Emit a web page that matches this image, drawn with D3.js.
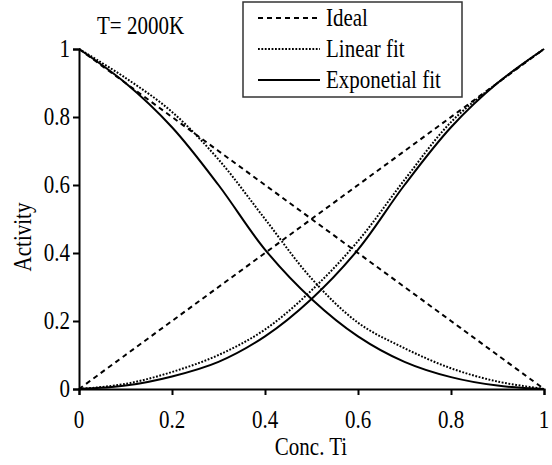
<!DOCTYPE html>
<html lang="en">
    <head>
        <meta charset="utf-8">
        <title>Activity vs Conc. Ti</title>
        <script type="text/javascript" src="https://d3js.org/d3.v7.min.js"></script>
        <style type="text/css">
          body { margin: 0; background: #fff; }
          svg { width: 552px; height: 465px; display: block; }
          text { font-family: "Liberation Serif", "DejaVu Serif", serif; fill: #000; }
        </style>
    </head>
    <body>
      <svg></svg>

        <script type="text/javascript">

        // concentration of Ti
        const conc = [0, 0.1, 0.2, 0.3, 0.4, 0.5, 0.6, 0.7, 0.8, 0.9, 1];

        // activities (rising = Ti, falling = the other component)
        const idealUp   = [0, 0.1, 0.2, 0.3, 0.4, 0.5, 0.6, 0.7, 0.8, 0.9, 1];
        const idealDown = [1, 0.9, 0.8, 0.7, 0.6, 0.5, 0.4, 0.3, 0.2, 0.1, 0];
        const linUp     = [0, 0.015, 0.05, 0.10, 0.175, 0.29, 0.435, 0.615, 0.785, 0.90, 1];
        const linDown   = [1, 0.915, 0.815, 0.675, 0.50, 0.325, 0.195, 0.12, 0.061, 0.022, 0];
        const expUp     = [0, 0.01, 0.037, 0.08, 0.155, 0.265, 0.41, 0.60, 0.77, 0.90, 1];
        const expDown   = [1, 0.90, 0.77, 0.60, 0.41, 0.265, 0.155, 0.08, 0.035, 0.01, 0];

        const xTicks = [0, 0.2, 0.4, 0.6, 0.8, 1];
        const yTicks = [0, 0.2, 0.4, 0.6, 0.8, 1];

        const svg = d3.select("svg");

        const x = d3.scaleLinear().domain([0, 1]).range([79, 544]);
        const y = d3.scaleLinear().domain([0, 1]).range([389, 49]);

        const styles = {
          ideal:  "5,4",
          linear: "1.8,1.6",
          exp:    null
        };

        const series = [
          {vals: idealUp,   dash: styles.ideal},
          {vals: idealDown, dash: styles.ideal},
          {vals: linUp,     dash: styles.linear},
          {vals: linDown,   dash: styles.linear},
          {vals: expUp,     dash: styles.exp},
          {vals: expDown,   dash: styles.exp}
        ];

        const line = d3.line()
            .x((d, i) => x(conc[i]))
            .y(d => y(d))
            .curve(d3.curveCatmullRom.alpha(0.5));

        svg.selectAll("path.curve")
           .data(series)
           .enter()
           .append("path")
           .attr("class", "curve")
           .attr("d", d => line(d.vals))
           .attr("fill", "none")
           .attr("stroke", "#000")
           .attr("stroke-width", 2)
           .attr("stroke-dasharray", d => d.dash);

        // axes
        const xAxis = svg.append("g")
            .attr("transform", "translate(0," + y(0) + ")")
            .call(d3.axisBottom(x).tickValues(xTicks).tickSize(6).tickFormat(d3.format("")));
        const yAxis = svg.append("g")
            .attr("transform", "translate(" + x(0) + ",0)")
            .call(d3.axisLeft(y).tickValues(yTicks).tickSize(6).tickFormat(d3.format("")));

        [xAxis, yAxis].forEach(ax => {
          ax.select(".domain").attr("stroke", "#000").attr("stroke-width", 2);
          ax.selectAll(".tick line").attr("stroke", "#000").attr("stroke-width", 2);
          ax.selectAll(".tick text").remove();
        });

        // tick labels drawn by hand so they can be narrowed like the original font
        function label(g, tx, ty, str, anchor) {
          g.append("text")
           .attr("transform", "translate(" + tx + "," + ty + ") scale(0.84,1)")
           .attr("text-anchor", anchor)
           .attr("font-size", 25)
           .text(str);
        }

        xTicks.forEach(t => label(svg, x(t), 428, d3.format("")(t), "middle"));
        yTicks.forEach(t => label(svg, 70, y(t) + 8, d3.format("")(t), "end"));

        // axis titles
        label(svg, 311, 455, "Conc. Ti", "middle");
        svg.append("text")
           .attr("transform", "translate(31,237) rotate(-90) scale(0.84,1)")
           .attr("text-anchor", "middle")
           .attr("font-size", 25)
           .text("Activity");

        label(svg, 97, 34, "T= 2000K", "start");

        // legend
        const legend = [
          {name: "Ideal",          dash: styles.ideal},
          {name: "Linear fit",     dash: styles.linear},
          {name: "Exponetial fit", dash: styles.exp}
        ];

        svg.append("rect")
           .attr("x", 243).attr("y", 2)
           .attr("width", 219).attr("height", 95)
           .attr("fill", "#fff")
           .attr("stroke", "#333")
           .attr("stroke-width", 1.5);

        legend.forEach((d, i) => {
          const ly = 18 + i * 31;
          svg.append("line")
             .attr("x1", 258).attr("x2", 320)
             .attr("y1", ly).attr("y2", ly)
             .attr("stroke", "#000")
             .attr("stroke-width", 2)
             .attr("stroke-dasharray", d.dash);
          label(svg, 326, ly + 8, d.name, "start");
        });
    </script>
</body>
</html>
